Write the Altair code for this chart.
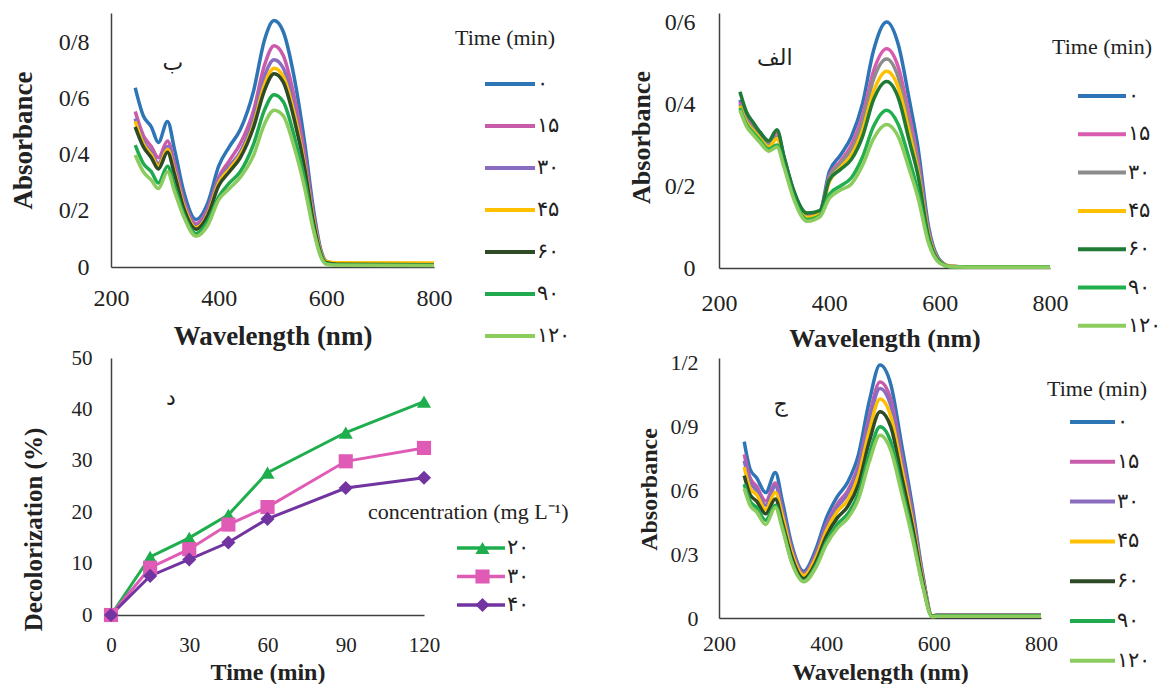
import altair as alt
import pandas as pd

FONT = "Liberation Serif"
TXT = "#222222"
AXC = "#404040"

TIMES = ["۰", "۱۵", "۳۰", "۴۵", "۶۰", "۹۰", "۱۲۰"]
CONCS = ["۲۰", "۳۰", "۴۰"]

# ---------------- Panel ب (top-left) ----------------
WL_B = [245, 260, 275, 288, 305, 318, 335, 358, 380, 400, 420, 440, 465, 485, 503, 520, 540, 560, 575, 590, 600, 620, 800]
B_T0 = [0.64, 0.54, 0.50, 0.445, 0.52, 0.42, 0.27, 0.17, 0.23, 0.36, 0.43, 0.49, 0.63, 0.81, 0.88, 0.84, 0.68, 0.44, 0.22, 0.06, 0.02, 0.012, 0.01]
B_T15 = [0.555, 0.47, 0.43, 0.39, 0.45, 0.37, 0.24, 0.155, 0.21, 0.32, 0.38, 0.44, 0.56, 0.72, 0.79, 0.755, 0.61, 0.40, 0.20, 0.055, 0.02, 0.012, 0.01]
B_T30 = [0.53, 0.45, 0.41, 0.37, 0.43, 0.35, 0.23, 0.145, 0.20, 0.31, 0.36, 0.41, 0.53, 0.68, 0.74, 0.71, 0.57, 0.37, 0.19, 0.05, 0.018, 0.012, 0.01]
B_T45 = [0.52, 0.44, 0.40, 0.36, 0.42, 0.34, 0.22, 0.14, 0.19, 0.30, 0.35, 0.40, 0.51, 0.65, 0.71, 0.68, 0.55, 0.36, 0.18, 0.05, 0.02, 0.015, 0.014]
B_T60 = [0.50, 0.43, 0.39, 0.35, 0.41, 0.33, 0.21, 0.135, 0.185, 0.29, 0.34, 0.39, 0.50, 0.63, 0.69, 0.66, 0.53, 0.35, 0.17, 0.045, 0.015, 0.01, 0.008]
B_T90 = [0.435, 0.37, 0.34, 0.30, 0.36, 0.29, 0.19, 0.12, 0.165, 0.25, 0.30, 0.34, 0.44, 0.56, 0.615, 0.59, 0.47, 0.31, 0.15, 0.04, 0.012, 0.008, 0.006]
B_T120 = [0.40, 0.34, 0.31, 0.28, 0.34, 0.27, 0.18, 0.11, 0.15, 0.24, 0.28, 0.32, 0.40, 0.51, 0.56, 0.54, 0.43, 0.28, 0.14, 0.035, 0.01, 0.006, 0.005]
B_SERIES = [B_T0, B_T15, B_T30, B_T45, B_T60, B_T90, B_T120]
B_COLORS = ["#2E75B6", "#C85BAA", "#8A6DC0", "#FFC000", "#2E4A26", "#1FAA4F", "#8CCB5E"]

# ---------------- Panel الف (top-right) ----------------
WL_A = [238, 250, 262, 275, 290, 305, 318, 335, 360, 383, 400, 420, 440, 460, 480, 504, 525, 545, 560, 580, 600, 620, 650, 800]
A_T0 = [0.41, 0.37, 0.35, 0.33, 0.31, 0.335, 0.27, 0.19, 0.13, 0.14, 0.235, 0.275, 0.32, 0.40, 0.53, 0.60, 0.545, 0.41, 0.30, 0.10, 0.02, 0.004, 0.002, 0.002]
A_T15 = [0.405, 0.365, 0.345, 0.325, 0.305, 0.33, 0.265, 0.185, 0.128, 0.138, 0.225, 0.26, 0.30, 0.37, 0.48, 0.535, 0.49, 0.37, 0.27, 0.09, 0.018, 0.004, 0.002, 0.002]
A_T30 = [0.40, 0.36, 0.34, 0.32, 0.30, 0.32, 0.26, 0.18, 0.125, 0.135, 0.22, 0.255, 0.29, 0.355, 0.46, 0.51, 0.465, 0.35, 0.255, 0.085, 0.017, 0.004, 0.002, 0.002]
A_T45 = [0.395, 0.355, 0.335, 0.315, 0.295, 0.315, 0.255, 0.178, 0.123, 0.133, 0.21, 0.245, 0.275, 0.335, 0.43, 0.48, 0.44, 0.33, 0.24, 0.08, 0.016, 0.004, 0.002, 0.002]
A_T60 = [0.43, 0.38, 0.355, 0.33, 0.31, 0.337, 0.27, 0.19, 0.134, 0.14, 0.215, 0.24, 0.265, 0.32, 0.41, 0.455, 0.415, 0.31, 0.23, 0.075, 0.015, 0.003, 0.002, 0.002]
A_T90 = [0.39, 0.35, 0.33, 0.31, 0.29, 0.30, 0.25, 0.175, 0.118, 0.128, 0.18, 0.20, 0.22, 0.27, 0.345, 0.385, 0.35, 0.265, 0.19, 0.065, 0.013, 0.003, 0.002, 0.002]
A_T120 = [0.385, 0.345, 0.325, 0.305, 0.285, 0.295, 0.245, 0.17, 0.114, 0.125, 0.17, 0.19, 0.205, 0.25, 0.315, 0.35, 0.32, 0.24, 0.175, 0.06, 0.012, 0.003, 0.002, 0.002]
A_SERIES = [A_T0, A_T15, A_T30, A_T45, A_T60, A_T90, A_T120]
A_COLORS = ["#2E75B6", "#D95BB0", "#8C8C8C", "#FFC000", "#1E7A35", "#22B04E", "#8CCB5E"]

# ---------------- Panel ج (bottom-right) ----------------
WL_J = [247, 258, 270, 287, 305, 318, 335, 358, 380, 400, 420, 440, 460, 480, 500, 520, 540, 560, 580, 597, 607, 700, 800]
J_T0 = [0.83, 0.70, 0.66, 0.59, 0.685, 0.55, 0.35, 0.22, 0.32, 0.47, 0.57, 0.64, 0.77, 1.02, 1.19, 1.10, 0.82, 0.53, 0.20, 0.01, 0.015, 0.015, 0.015]
J_T15 = [0.77, 0.66, 0.62, 0.55, 0.635, 0.51, 0.33, 0.21, 0.30, 0.44, 0.535, 0.60, 0.72, 0.95, 1.11, 1.03, 0.77, 0.50, 0.19, 0.01, 0.012, 0.012, 0.012]
J_T30 = [0.74, 0.64, 0.60, 0.53, 0.62, 0.50, 0.32, 0.205, 0.29, 0.43, 0.52, 0.585, 0.70, 0.93, 1.08, 1.00, 0.75, 0.485, 0.185, 0.01, 0.012, 0.012, 0.012]
J_T45 = [0.71, 0.61, 0.58, 0.51, 0.59, 0.48, 0.31, 0.20, 0.28, 0.41, 0.50, 0.555, 0.67, 0.88, 1.03, 0.95, 0.71, 0.46, 0.175, 0.01, 0.012, 0.012, 0.012]
J_T60 = [0.67, 0.58, 0.55, 0.49, 0.56, 0.45, 0.29, 0.185, 0.26, 0.385, 0.47, 0.525, 0.63, 0.83, 0.97, 0.90, 0.67, 0.435, 0.165, 0.008, 0.01, 0.01, 0.01]
J_T90 = [0.63, 0.55, 0.52, 0.46, 0.53, 0.43, 0.27, 0.175, 0.245, 0.36, 0.44, 0.49, 0.585, 0.77, 0.90, 0.83, 0.62, 0.40, 0.15, 0.008, 0.01, 0.01, 0.01]
J_T120 = [0.61, 0.53, 0.50, 0.44, 0.52, 0.42, 0.265, 0.17, 0.235, 0.345, 0.42, 0.47, 0.56, 0.735, 0.86, 0.79, 0.59, 0.38, 0.145, 0.006, 0.008, 0.008, 0.008]
J_SERIES = [J_T0, J_T15, J_T30, J_T45, J_T60, J_T90, J_T120]
J_COLORS = ["#2E75B6", "#C85BAA", "#8A6DC0", "#FFC000", "#2E4A26", "#1FAA4F", "#8CCB5E"]

# ---------------- Panel د (bottom-left) ----------------
TIME_MIN = [0, 15, 30, 45, 60, 90, 120]
DEC_20 = [0, 11.3, 15.0, 19.5, 27.7, 35.5, 41.5]
DEC_30 = [0, 9.2, 12.8, 17.6, 21.0, 29.9, 32.5]
DEC_40 = [0, 7.6, 10.8, 14.1, 18.7, 24.7, 26.7]
D_COLORS = ["#1FAE4E", "#E05BB5", "#7134A0"]
D_SHAPES = ["triangle-up", "square", "diamond"]

# panel letters (position in data units)
LETTERS = {"B": ("ب", 315, 0.73), "A": ("الف", 301, 0.512), "D": ("د", 23, 42.2), "J": ("ج", 315, 1.007)}

YLAB = "datum.value == 0 ? '0' : replace(format(datum.value, '.1f'), '.', '/')"


def long_spec(wl, series):
    rows = []
    for t, vals in zip(TIMES, series):
        for x, v in zip(wl, vals):
            rows.append({"wl": x, "a": v, "time": t})
    return pd.DataFrame(rows)


def spectral(wl, series, colors, w, h, ymax, yticks, tick_fs, ttl_fs, xlab_pad, ylab_pad,
             xtitle_y, ytitle_x, ytitle_y, leg, letter):
    df = long_spec(wl, series)
    xsc = alt.Scale(domain=[200, 800], nice=False, zero=False)
    ysc = alt.Scale(domain=[0, ymax], nice=False)
    xax = alt.Axis(values=[200, 400, 600, 800], title="Wavelength (nm)", grid=False, ticks=False,
                   tickSize=0, domainColor=AXC, domainWidth=1.5, labelFont=FONT, labelFontSize=tick_fs,
                   labelColor=TXT, labelPadding=xlab_pad, labelFlush=False, labelOverlap=False,
                   titleFont=FONT, titleFontSize=ttl_fs, titleFontWeight="bold", titleColor=TXT,
                   titleBaseline="middle", titleY=xtitle_y)
    yax = alt.Axis(values=yticks, labelExpr=YLAB, title="Absorbance", grid=False, ticks=False,
                   tickSize=0, domainColor=AXC, domainWidth=1.5, labelFont=FONT, labelFontSize=tick_fs,
                   labelColor=TXT, labelPadding=ylab_pad, labelFlush=False, labelOverlap=False,
                   titleFont=FONT, titleFontSize=ttl_fs, titleFontWeight="bold", titleColor=TXT,
                   titleBaseline="middle", titleX=ytitle_x, titleY=ytitle_y)
    legend = alt.Legend(orient="none", legendX=leg["x"], legendY=leg["y"], title="Time (min)",
                        titleFont=FONT, titleFontSize=22, titleFontWeight="normal", titleColor=TXT,
                        titlePadding=leg["tp"], symbolType="stroke", symbolSize=leg["ss"],
                        symbolStrokeWidth=4, symbolOffset=leg["so"], labelFont=FONT, labelFontSize=21,
                        labelColor=TXT, labelOffset=0, clipHeight=22, rowPadding=leg["rp"],
                        padding=0)
    lines = alt.Chart(df).mark_line(strokeWidth=3.5, interpolate="monotone").encode(
        x=alt.X("wl:Q", scale=xsc, axis=xax),
        y=alt.Y("a:Q", scale=ysc, axis=yax),
        color=alt.Color("time:N", scale=alt.Scale(domain=TIMES, range=colors), sort=TIMES, legend=legend),
    )
    lt = pd.DataFrame({"wl": [letter[1]], "a": [letter[2]], "t": [letter[0]]})
    txt = alt.Chart(lt).mark_text(font="DejaVu Sans", fontSize=22, color=TXT).encode(
        x="wl:Q", y="a:Q", text="t:N")
    return alt.layer(lines, txt).properties(width=w, height=h)


pB = spectral(WL_B, B_SERIES, B_COLORS, 323, 254, 0.907, [0, 0.2, 0.4, 0.6, 0.8], 24, 27, 19, 22,
              69, -88, 127, {"x": 344, "y": 15, "tp": 23, "ss": 2500, "so": 28, "rp": 20},
              LETTERS["B"])
pA = spectral(WL_A, A_SERIES, A_COLORS, 331, 255, 0.622, [0, 0.2, 0.4, 0.6], 24, 26, 23, 24,
              70, -78, 124, {"x": 333, "y": 24, "tp": 26, "ss": 2304, "so": 24, "rp": 16.3},
              LETTERS["A"])
pJ = spectral(WL_J, J_SERIES, J_COLORS, 322, 260, 1.2235, [0, 0.3, 0.6, 0.9, 1.2], 22, 24, 15, 21,
              54, -70, 131, {"x": 328, "y": 21, "tp": 10, "ss": 2025, "so": 21, "rp": 17.8},
              LETTERS["J"])

# ---- decolorization panel ----
drows = []
for c, vals in zip(CONCS, [DEC_20, DEC_30, DEC_40]):
    for t, v in zip(TIME_MIN, vals):
        drows.append({"t": t, "d": v, "conc": c, "cp": c + " "})
dfD = pd.DataFrame(drows)
CONCS_P = [c + " " for c in CONCS]

dx = alt.X("t:Q", scale=alt.Scale(domain=[0, 120], nice=False),
           axis=alt.Axis(values=[0, 30, 60, 90, 120], title="Time (min)", grid=False, ticks=False, tickSize=0,
                         domainColor=AXC, domainWidth=1.5, labelFont=FONT, labelFontSize=21, labelColor=TXT,
                         labelPadding=19, labelFlush=False, labelOverlap=False, titleFont=FONT,
                         titleFontSize=24, titleFontWeight="bold", titleColor=TXT, titleBaseline="middle",
                         titleY=57))
dy = alt.Y("d:Q", scale=alt.Scale(domain=[0, 50], nice=False),
           axis=alt.Axis(values=[0, 10, 20, 30, 40, 50], title="Decolorization (%)", grid=False, ticks=False,
                         tickSize=0, domainColor=AXC, domainWidth=1.5, labelFont=FONT, labelFontSize=21,
                         labelColor=TXT, labelPadding=19, labelFlush=False, labelOverlap=False,
                         titleFont=FONT, titleFontSize=25, titleFontWeight="bold", titleColor=TXT,
                         titleBaseline="middle", titleX=-78, titleY=171))
CONC_TITLE = "concentration (mg L⁻¹)"
leg_line = alt.Legend(orient="none", legendX=257, legendY=144, title=CONC_TITLE, titleFont=FONT,
                      titleFontSize=22, titleFontWeight="normal", titleColor=TXT, titlePadding=13,
                      titleLimit=400, symbolType="stroke", symbolSize=2304, symbolStrokeWidth=3.5,
                      symbolOffset=87, labelFont=FONT, labelFontSize=21, labelColor=TXT, labelOffset=0,
                      clipHeight=22, rowPadding=6.5, padding=0)
leg_pts = alt.Legend(orient="none", legendX=257, legendY=144, title=" ", titleFont=FONT,
                     titleFontSize=22, titleFontWeight="normal", titleColor="transparent", titlePadding=13,
                     titleLimit=400, symbolSize=200, symbolOffset=104, symbolStrokeWidth=0, labelFont=FONT,
                     labelFontSize=21, labelColor="transparent", labelExpr="''", labelOffset=0,
                     clipHeight=22, rowPadding=6.5, padding=0)
dline = alt.Chart(dfD).mark_line(strokeWidth=3).encode(
    x=dx, y=dy,
    color=alt.Color("conc:N", scale=alt.Scale(domain=CONCS, range=D_COLORS), sort=CONCS, legend=leg_line))
dpts = alt.Chart(dfD).mark_point(filled=True, size=200, opacity=1).encode(
    x=dx, y=dy,
    fill=alt.Fill("cp:N", scale=alt.Scale(domain=CONCS_P, range=D_COLORS), sort=CONCS_P, legend=leg_pts),
    shape=alt.Shape("cp:N", scale=alt.Scale(domain=CONCS_P, range=D_SHAPES), sort=CONCS_P, legend=leg_pts))
dlt = pd.DataFrame({"t": [LETTERS["D"][1]], "d": [LETTERS["D"][2]], "s": [LETTERS["D"][0]]})
dtxt = alt.Chart(dlt).mark_text(font="DejaVu Sans", fontSize=22, color=TXT).encode(x="t:Q", y="d:Q", text="s:N")
pD = alt.layer(dline, dpts, dtxt).properties(width=313, height=257)

IND = dict(color="independent", fill="independent", shape="independent", x="independent", y="independent")
LIND = dict(color="independent", fill="independent", shape="independent")

chart = alt.concat(pB, pA, pD, pJ, columns=2, spacing={"row": 90, "column": 285}, bounds="flush")
chart = chart.resolve_scale(**IND).resolve_legend(**LIND)
chart = chart.properties(padding={"left": 0, "top": 2, "right": 0, "bottom": 0}).configure(
    font=FONT).configure_view(stroke=None)

chart.save("out.html", embed_options={"renderer": "svg", "actions": False})
